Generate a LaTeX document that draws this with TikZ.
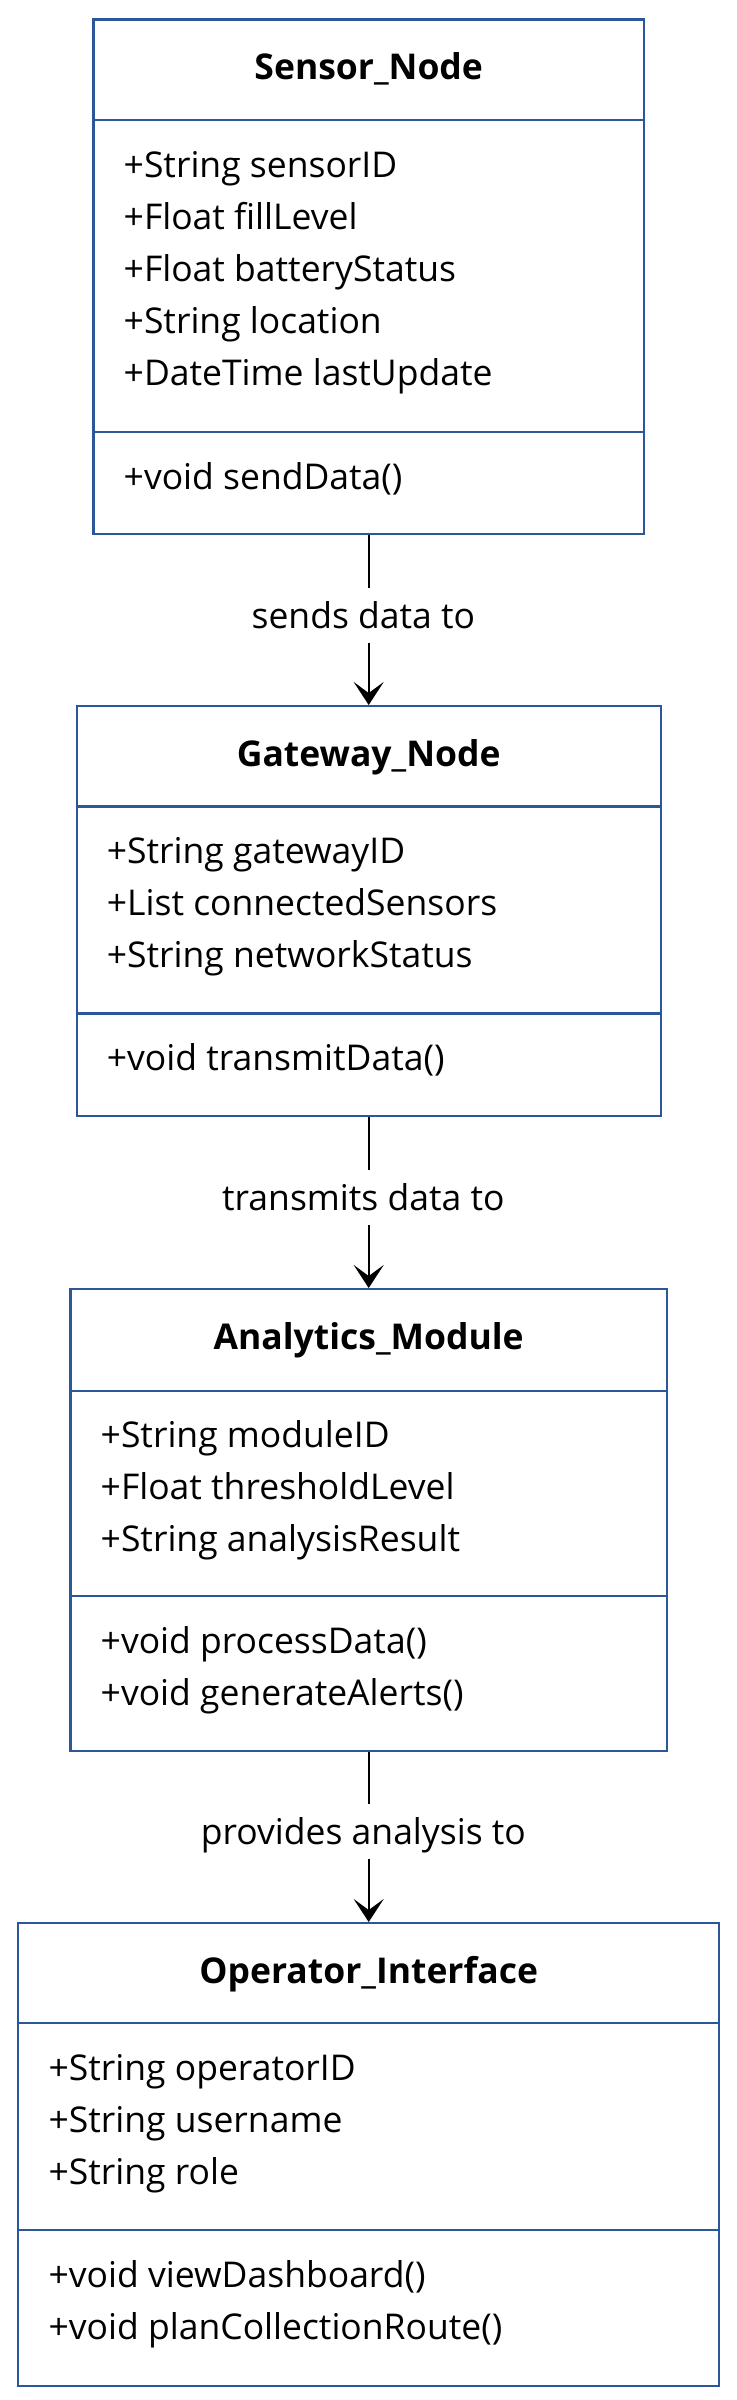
\documentclass[tikz,border=0pt]{standalone}
\usepackage{fontspec}
\setmainfont{Open Sans}
\usetikzlibrary{arrows.meta}
\definecolor{clsblue}{HTML}{2B579A}
\tikzset{
  x=1pt, y=1pt,
  cls/.style={draw=clsblue, line width=2.4pt, fill=white, inner sep=0pt},
  clsline/.style={draw=clsblue, line width=2.4pt},
  ttl/.style={font=\fontsize{35.5}{42}\selectfont\bfseries, anchor=base, inner sep=0pt},
  mem/.style={font=\fontsize{35.5}{42}\selectfont, anchor=base west, inner sep=0pt},
  rel/.style={draw=black, line width=2.3pt},
  relarrow/.style={rel, -{Stealth[length=23pt,width=30pt,inset=11pt]}},
  lbl/.style={font=\fontsize{35.5}{42}\selectfont, anchor=base, fill=white, inner sep=0pt, text height=40pt, text depth=15pt},
}
\begin{document}
\begin{tikzpicture}
\useasboundingbox (0,0) rectangle (736,-2400);
% Sensor_Node
\node[cls, minimum width=550.5, minimum height=514.6, anchor=north] (sensor) at (368.7,-18.4) {};
\draw[clsline] ([yshift=-101.6]sensor.north west) -- ([yshift=-101.6]sensor.north east);
\draw[clsline] ([yshift=-413.6]sensor.north west) -- ([yshift=-413.6]sensor.north east);
\node[ttl] (sensorT) at (368.7,-79.3) {Sensor\_Node};
\node[mem] (s1) at (123.5,-177.3) {+String sensorID};
\node[mem] (s2) at (123.5,-229.3) {+Float fillLevel};
\node[mem] (s3) at (123.5,-281.3) {+Float batteryStatus};
\node[mem] (s4) at (123.5,-333.3) {+String location};
\node[mem] (s5) at (123.5,-385.3) {+DateTime lastUpdate};
\node[mem] (s6) at (123.5,-489) {+void sendData()};
% Gateway_Node
\node[cls, minimum width=584, minimum height=409.6, anchor=north] (gateway) at (368.7,-705) {};
\draw[clsline] ([yshift=-101.5]gateway.north west) -- ([yshift=-101.5]gateway.north east);
\draw[clsline] ([yshift=-308.5]gateway.north west) -- ([yshift=-308.5]gateway.north east);
\node[ttl] (gatewayT) at (368.7,-766) {Gateway\_Node};
\node[mem] (g1) at (106.7,-863.5) {+String gatewayID};
\node[mem] (g2) at (106.7,-915.5) {+List connectedSensors};
\node[mem] (g3) at (106.7,-967.5) {+String networkStatus};
\node[mem] (g4) at (106.7,-1070.5) {+void transmitData()};
% Analytics_Module
\node[cls, minimum width=596.5, minimum height=461.5, anchor=north] (analytics) at (368.7,-1288) {};
\draw[clsline] ([yshift=-102.7]analytics.north west) -- ([yshift=-102.7]analytics.north east);
\draw[clsline] ([yshift=-308]analytics.north west) -- ([yshift=-308]analytics.north east);
\node[ttl] (analyticsT) at (368.7,-1349) {Analytics\_Module};
\node[mem] (a1) at (100.5,-1447.7) {+String moduleID};
\node[mem] (a2) at (100.5,-1499.7) {+Float thresholdLevel};
\node[mem] (a3) at (100.5,-1551.7) {+String analysisResult};
\node[mem] (a4) at (100.5,-1653) {+void processData()};
\node[mem] (a5) at (100.5,-1705) {+void generateAlerts()};
% Operator_Interface
\node[cls, minimum width=701, minimum height=462.5, anchor=north] (operator) at (368.7,-1922) {};
\draw[clsline] ([yshift=-101]operator.north west) -- ([yshift=-101]operator.north east);
\draw[clsline] ([yshift=-308]operator.north west) -- ([yshift=-308]operator.north east);
\node[ttl] (operatorT) at (368.7,-1983) {Operator\_Interface};
\node[mem] (o1) at (48.4,-2080) {+String operatorID};
\node[mem] (o2) at (48.4,-2132) {+String username};
\node[mem] (o3) at (48.4,-2184) {+String role};
\node[mem] (o4) at (48.4,-2287) {+void viewDashboard()};
\node[mem] (o5) at (48.4,-2339) {+void planCollectionRoute()};
% relation labels
\node[lbl] (l1) at (363.4,-628) {sends data to};
\node[lbl] (l2) at (363.4,-1210) {transmits data to};
\node[lbl] (l3) at (363.4,-1844) {provides analysis to};
% relations
\draw[rel] (sensor.south) -- (sensor.south |- l1.north);
\draw[relarrow] (gateway.north |- l1.south) -- (gateway.north);
\draw[rel] (gateway.south) -- (gateway.south |- l2.north);
\draw[relarrow] (analytics.north |- l2.south) -- (analytics.north);
\draw[rel] (analytics.south) -- (analytics.south |- l3.north);
\draw[relarrow] (operator.north |- l3.south) -- (operator.north);
\end{tikzpicture}
\end{document}
